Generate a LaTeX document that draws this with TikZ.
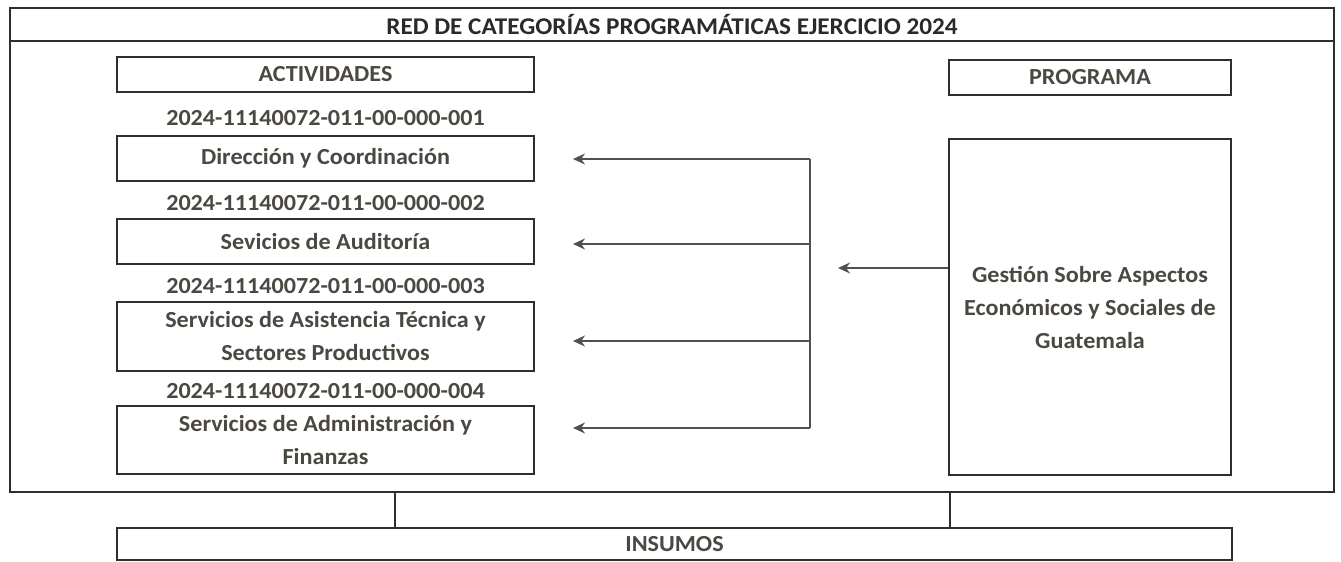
\documentclass[tikz,border=0pt]{standalone}
\usepackage{fontspec}
\setmainfont{Carlito}[FakeStretch=1.05]
\usepackage{tikz}
\usetikzlibrary{arrows.meta,positioning,calc}
\usepackage{xcolor}
\definecolor{rcTexto}{HTML}{4B4741}
\definecolor{rcTitulo}{HTML}{2B2A28}
\definecolor{rcBorde}{HTML}{2E2E2E}
\definecolor{rcFlecha}{HTML}{505050}
\tikzset{
    % cajas y textos
    marco/.style={rectangle,draw=rcBorde,line width=1.6pt,inner sep=0pt,minimum width=1324pt},
    caja/.style={rectangle,draw=rcBorde,line width=1.6pt,minimum width=417pt,align=center,text=rcTexto,inner sep=0pt},
    progbox/.style={caja,minimum width=282pt},
    codigo/.style={text=rcTexto,inner sep=0pt},
    % conectores
    flecha/.style={-{Stealth[length=12pt,width=11pt]},line width=1.3pt,rcFlecha},
    linea/.style={line width=1.3pt,rcFlecha}
}

\begin{document}
\begin{tikzpicture}[x=1pt,y=-1pt,font=\fontsize{23}{33}\selectfont\bfseries]
  \useasboundingbox (0,0) rectangle (1341,562);

  % Marco general y titulo
  \node[marco,minimum height=484pt] (marco) at (672,250) {};
  \node[marco,minimum height=33pt,text=rcTitulo,font=\fontsize{24}{28}\selectfont\bfseries] (titulo) at (672,24.5) {RED DE CATEGORÍAS PROGRAMÁTICAS EJERCICIO 2024};

  % Encabezados
  \node[caja,minimum height=35pt] (actividades) at (325.5,74.5) {ACTIVIDADES};
  \node[progbox,minimum height=35pt] (programa) at (1090,77.5) {PROGRAMA};

  % Actividades
  \node[codigo] (cod1) at (325.5,118) {2024-11140072-011-00-000-001};
  \node[caja,minimum height=45pt] (act1) at (325.5,158.5) {Dirección y Coordinación};
  \node[codigo] (cod2) at (325.5,203) {2024-11140072-011-00-000-002};
  \node[caja,minimum height=45pt] (act2) at (325.5,241.5) {Sevicios de Auditoría};
  \node[codigo] (cod3) at (325.5,286) {2024-11140072-011-00-000-003};
  \node[caja,minimum height=69pt] (act3) at (325.5,336.5) {Servicios de Asistencia Técnica y\\Sectores Productivos};
  \node[codigo] (cod4) at (325.5,391) {2024-11140072-011-00-000-004};
  \node[caja,minimum height=68pt] (act4) at (325.5,440) {Servicios de Administración y\\Finanzas};

  % Programa
  \node[progbox,minimum height=336pt] (gestion) at (1090,307) {Gestión Sobre Aspectos\\Económicos y Sociales de\\Guatemala};

  % Insumos
  \node[caja,minimum width=1115pt,minimum height=32pt] (insumos) at (674.5,544) {INSUMOS};

  % Flechas de programa a actividades
  \coordinate (entrada) at (838,268);
  \draw[flecha] (gestion.west |- entrada) -- (entrada);
  \foreach \y [count=\i] in {159,244,341,428} {
    \coordinate (bus\i) at (810,\y);
    \coordinate (punta\i) at (573,\y);
    \draw[flecha] (bus\i) -- (punta\i);
  }
  \draw[linea] (bus1) -- (bus4);

  % Enlaces con insumos
  \coordinate (enlace) at (395,0);
  \coordinate (enlace2) at (950,0);
  \draw[linea,rcBorde] (marco.south -| enlace) -- (insumos.north -| enlace);
  \draw[linea,rcBorde] (marco.south -| enlace2) -- (insumos.north -| enlace2);
\end{tikzpicture}
\end{document}
